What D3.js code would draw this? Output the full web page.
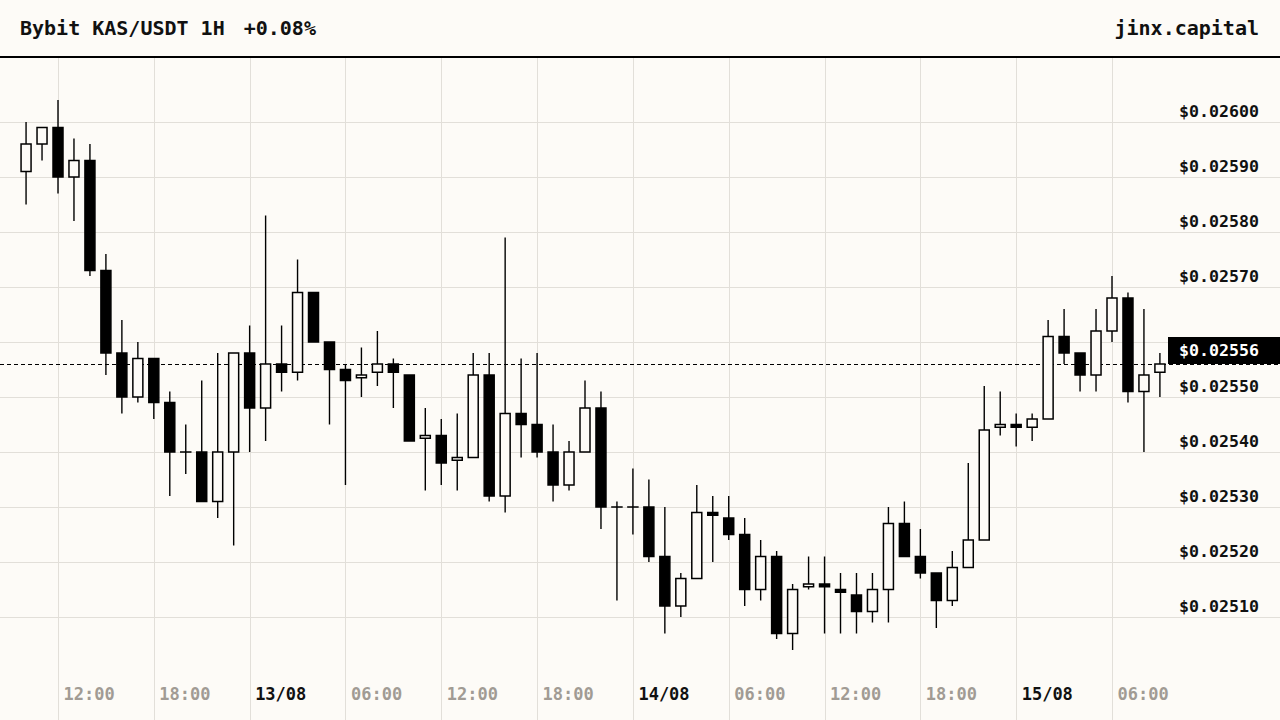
<!DOCTYPE html>
<html>
<head>
<meta charset="utf-8">
<script src="https://cdn.jsdelivr.net/npm/d3@7"></script>
<style>
  html, body { margin: 0; padding: 0; background: #fdfbf7; }
  svg { display: block; }
  text { font-family: "DejaVu Sans Mono", monospace; font-weight: bold; }
</style>
</head>
<body>
<div id="chart"></div>
<script>
// hourly candles, Bybit KAS/USDT, starting 12/08 10:00
const START = new Date(Date.UTC(2023, 7, 12, 10));
const opens = [
  0.02591, 0.02596, 0.02599, 0.02590, 0.02593, 0.02573, 0.02558, 0.02550, 0.02557, 0.02549,
  0.02540, 0.02540, 0.02531, 0.02540, 0.02558, 0.02548, 0.02556, 0.025545, 0.02569, 0.02560,
  0.02555, 0.025535, 0.025545, 0.02556, 0.02554, 0.025425, 0.02543, 0.025385, 0.02539, 0.02554,
  0.02532, 0.02547, 0.02545, 0.02540, 0.02534, 0.02540, 0.02548, 0.02530, 0.02530, 0.02530,
  0.02521, 0.02512, 0.02517, 0.02529, 0.02528, 0.02525, 0.02515, 0.02521, 0.02507, 0.025155,
  0.02516, 0.02515, 0.02514, 0.02511, 0.02515, 0.02527, 0.02521, 0.02518, 0.02513, 0.02519,
  0.02524, 0.025445, 0.02545, 0.025445, 0.02546, 0.02561, 0.02558, 0.02554, 0.02562, 0.02568,
  0.02551, 0.025545
];
const highs = [
  0.02600, 0.02599, 0.02604, 0.02597, 0.02596, 0.02576, 0.02564, 0.02560, 0.02557, 0.02551,
  0.02545, 0.02553, 0.02558, 0.02558, 0.02563, 0.02583, 0.02563, 0.02575, 0.02569, 0.02560,
  0.02556, 0.02559, 0.02562, 0.02557, 0.02554, 0.02548, 0.02546, 0.02547, 0.02558, 0.02558,
  0.02579, 0.02557, 0.02558, 0.02545, 0.02542, 0.02553, 0.02551, 0.02531, 0.02537, 0.02535,
  0.02530, 0.02518, 0.02534, 0.02532, 0.02532, 0.02528, 0.02524, 0.02522, 0.02516, 0.02521,
  0.02521, 0.02518, 0.02518, 0.02518, 0.02530, 0.02531, 0.02526, 0.02518, 0.02522, 0.02538,
  0.02552, 0.02551, 0.02547, 0.02547, 0.02564, 0.02566, 0.02558, 0.02566, 0.02572, 0.02569,
  0.02566, 0.02558
];
const lows = [
  0.02585, 0.02593, 0.02587, 0.02582, 0.02572, 0.02554, 0.02547, 0.02549, 0.02546, 0.02532,
  0.02536, 0.02531, 0.02528, 0.02523, 0.02540, 0.02542, 0.02551, 0.02553, 0.02560, 0.02545,
  0.02534, 0.02550, 0.02552, 0.02548, 0.02542, 0.02533, 0.02534, 0.02533, 0.02539, 0.02531,
  0.02529, 0.02539, 0.02539, 0.02531, 0.02533, 0.02540, 0.02526, 0.02513, 0.02525, 0.02520,
  0.02507, 0.02510, 0.02517, 0.02520, 0.02524, 0.02512, 0.02513, 0.02506, 0.02504, 0.02515,
  0.02507, 0.02507, 0.02507, 0.02509, 0.02509, 0.02521, 0.02517, 0.02508, 0.02512, 0.02519,
  0.02524, 0.02543, 0.02541, 0.02542, 0.02546, 0.02556, 0.02551, 0.02551, 0.02560, 0.02549,
  0.02540, 0.02550
];
const closes = [
  0.02596, 0.02599, 0.02590, 0.02593, 0.02573, 0.02558, 0.02550, 0.02557, 0.02549, 0.02540,
  0.02540, 0.02531, 0.02540, 0.02558, 0.02548, 0.02556, 0.025545, 0.02569, 0.02560, 0.02555,
  0.02553, 0.02554, 0.02556, 0.025545, 0.02542, 0.02543, 0.02538, 0.02539, 0.02554, 0.02532,
  0.02547, 0.02545, 0.02540, 0.02534, 0.02540, 0.02548, 0.02530, 0.02530, 0.02530, 0.02521,
  0.02512, 0.02517, 0.02529, 0.025285, 0.02525, 0.02515, 0.02521, 0.02507, 0.02515, 0.02516,
  0.025155, 0.025145, 0.02511, 0.02515, 0.02527, 0.02521, 0.02518, 0.02513, 0.02519, 0.02524,
  0.02544, 0.02545, 0.025445, 0.02546, 0.02561, 0.02558, 0.02554, 0.02562, 0.02568, 0.02551,
  0.02554, 0.02556
];
const yTicks = [0.0251, 0.0252, 0.0253, 0.0254, 0.0255, 0.0256, 0.0257, 0.0258, 0.0259, 0.0260];
const TITLE = "Bybit KAS/USDT 1H";
const CHANGE = "+0.08%";
const BRAND = "jinx.capital";

const WIDTH = 1280, HEIGHT = 720;
const HEADER = 57;       // y of header rule
const PLOT_RIGHT = 1168; // price tag starts here
const BG = "#fdfbf7", GRID = "#e2dfd9", INK = "#111", MUTED = "#a19b94";

const candles = opens.map((o, i) => ({
  date: d3.utcHour.offset(START, i),
  open: o, high: highs[i], low: lows[i], close: closes[i],
}));
const last = candles[candles.length - 1];

const svg = d3.select("#chart").append("svg")
  .attr("width", WIDTH).attr("height", HEIGHT);

svg.append("rect").attr("width", WIDTH).attr("height", HEIGHT).attr("fill", BG);

// scales
const x = d3.scaleUtc()
  .domain([new Date(Date.UTC(2023, 7, 12, 12)), new Date(Date.UTC(2023, 7, 15, 6))])
  .range([58, 1112]);
const y = d3.scaleLinear().domain([0.02500, 0.02612]).range([672, 56]);
const yLast = y(last.close);

// horizontal grid + price labels
const yAxis = svg.append("g")
  .call(d3.axisRight(y).tickValues(yTicks).tickSize(WIDTH)
    .tickFormat((d) => "$" + d3.format(".5f")(d)));
yAxis.select(".domain").remove();
yAxis.selectAll(".tick line").attr("stroke", GRID).attr("shape-rendering", "crispEdges");
yAxis.selectAll(".tick text")
  .attr("x", 1259).attr("dy", -6).attr("text-anchor", "end")
  .attr("fill", INK).style("font-size", "16.6px")
  .style("font-family", '"DejaVu Sans Mono", monospace').style("font-weight", "bold")
  // label collides with the last-price tag -> hide it
  .style("display", (d) => Math.abs(y(d) - yLast) < 30 ? "none" : null);

// vertical grid + time labels
const xTickValues = d3.utcHour.every(6).range(x.domain()[0], d3.utcHour.offset(x.domain()[1], 1));
const isMidnight = (d) => d.getUTCHours() === 0;
const xAxis = svg.append("g")
  .attr("transform", `translate(0, ${HEIGHT})`)
  .call(d3.axisBottom(x).tickValues(xTickValues).tickSize(-(HEIGHT - HEADER))
    .tickFormat((d) => isMidnight(d) ? d3.utcFormat("%d/%m")(d) : d3.utcFormat("%H:%M")(d)));
xAxis.select(".domain").remove();
xAxis.selectAll(".tick line").attr("stroke", GRID).attr("shape-rendering", "crispEdges");
xAxis.selectAll(".tick text")
  .attr("x", 5).attr("y", -20).attr("dy", 0).attr("text-anchor", "start")
  .attr("fill", (d) => isMidnight(d) ? INK : MUTED)
  .style("font-size", "17px")
  .style("font-family", '"DejaVu Sans Mono", monospace').style("font-weight", "bold");

// last price line
svg.append("line")
  .attr("x1", 0).attr("x2", WIDTH)
  .attr("y1", Math.round(yLast) + 0.5).attr("y2", Math.round(yLast) + 0.5)
  .attr("stroke", "#000").attr("stroke-width", 1)
  .attr("stroke-dasharray", "4,3");

// candles
const g = svg.append("g").attr("class", "candles");
const candle = g.selectAll(".candle").data(candles).join("g").attr("class", "candle");

candle.append("line")
  .attr("x1", (d) => x(d.date)).attr("x2", (d) => x(d.date))
  .attr("y1", (d) => y(d.high)).attr("y2", (d) => y(d.low))
  .attr("stroke", "#000").attr("stroke-width", 1.4);

candle.append("rect")
  .attr("x", (d) => x(d.date) - 5)
  .attr("y", (d) => y(Math.max(d.open, d.close)))
  .attr("width", 10)
  .attr("height", (d) => Math.max(y(Math.min(d.open, d.close)) - y(Math.max(d.open, d.close)), 0.01))
  .attr("fill", (d) => d.close >= d.open ? BG : "#000")
  .attr("stroke", "#000").attr("stroke-width", 1.5);

// price tag
svg.append("rect")
  .attr("x", PLOT_RIGHT).attr("y", Math.round(yLast) - 27)
  .attr("width", WIDTH - PLOT_RIGHT).attr("height", 27)
  .attr("fill", "#000");
svg.append("text")
  .attr("x", 1259).attr("y", yLast - 8.5)
  .attr("text-anchor", "end").attr("fill", "#fff")
  .style("font-size", "16.6px")
  .text("$" + d3.format(".5f")(last.close));

// header
svg.append("rect").attr("width", WIDTH).attr("height", HEADER).attr("fill", BG);
const title = svg.append("text")
  .attr("x", 20).attr("y", 35).attr("fill", INK)
  .style("font-size", "20px").text(TITLE);
const titleEnd = 20 + title.node().getComputedTextLength();
svg.append("text")
  .attr("x", titleEnd + 19).attr("y", 35).attr("fill", INK)
  .style("font-size", "20px").text(CHANGE);
svg.append("text")
  .attr("x", 1259).attr("y", 35).attr("text-anchor", "end").attr("fill", INK)
  .style("font-size", "20px").text(BRAND);
svg.append("line")
  .attr("x1", 0).attr("x2", WIDTH).attr("y1", HEADER).attr("y2", HEADER)
  .attr("stroke", "#000").attr("stroke-width", 2);
</script>
</body>
</html>
